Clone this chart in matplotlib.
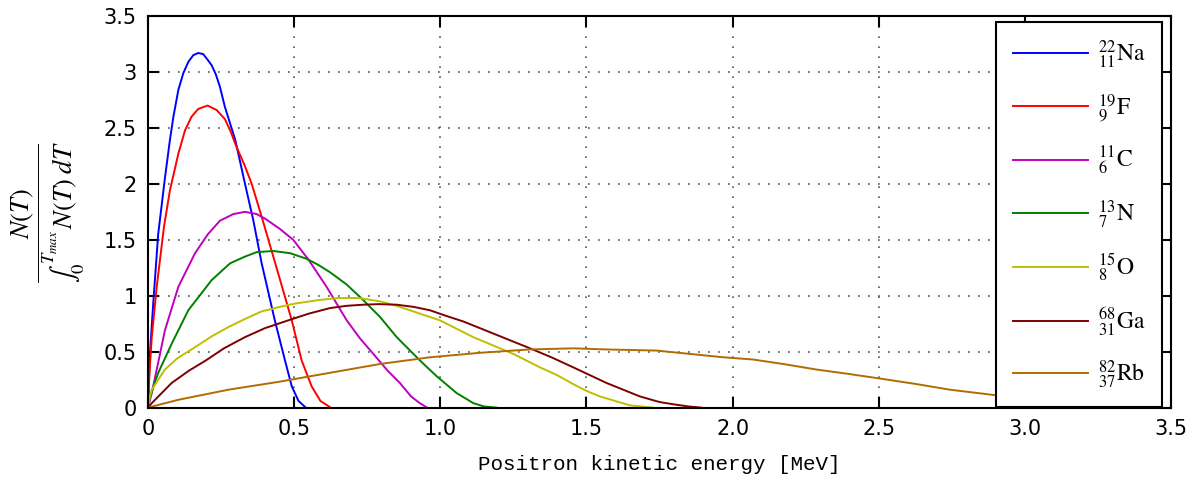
import numpy as np
import matplotlib
matplotlib.use("Agg")
import matplotlib.pyplot as plt

# positron spectra (x = energy in MeV, y = normalised N(T))
na22_x = [0, 0.007, 0.018, 0.035, 0.058, 0.075, 0.087, 0.104, 0.121, 0.138, 0.155,
          0.172, 0.189, 0.204, 0.218, 0.232, 0.246, 0.263, 0.299, 0.332, 0.360,
          0.389, 0.434, 0.469, 0.492, 0.515, 0.540]
na22_y = [0, 0.49, 0.93, 1.55, 2.05, 2.39, 2.60, 2.84, 2.99, 3.09, 3.15,
          3.17, 3.16, 3.11, 3.06, 2.98, 2.87, 2.69, 2.39, 2.0, 1.68,
          1.29, 0.78, 0.42, 0.19, 0.06, 0]

f19_x = [0, 0.005, 0.013, 0.030, 0.055, 0.075, 0.104, 0.127, 0.149, 0.172, 0.204,
         0.235, 0.263, 0.281, 0.303, 0.330, 0.355, 0.392, 0.440, 0.492, 0.526,
         0.560, 0.590, 0.625]
f19_y = [0, 0.3, 0.63, 1.08, 1.62, 1.94, 2.27, 2.48, 2.60, 2.67, 2.70,
         2.66, 2.58, 2.48, 2.33, 2.17, 2.0, 1.68, 1.25, 0.78, 0.42,
         0.19, 0.06, 0]

c11_x = [0, 0.013, 0.030, 0.058, 0.104, 0.161, 0.205, 0.246, 0.292, 0.332, 0.372,
         0.40, 0.45, 0.497, 0.55, 0.611, 0.680, 0.725, 0.771, 0.82, 0.862,
         0.90, 0.93, 0.955]
c11_y = [0, 0.13, 0.34, 0.69, 1.08, 1.38, 1.55, 1.67, 1.73, 1.75, 1.73,
         1.69, 1.60, 1.50, 1.32, 1.08, 0.78, 0.62, 0.48, 0.33, 0.22,
         0.10, 0.04, 0]

n13_x = [0, 0.007, 0.035, 0.081, 0.138, 0.218, 0.281, 0.332, 0.372, 0.429, 0.487,
         0.543, 0.58, 0.623, 0.68, 0.737, 0.794, 0.851, 0.931, 0.988, 1.056,
         1.113, 1.15, 1.193]
n13_y = [0, 0.10, 0.31, 0.57, 0.87, 1.14, 1.29, 1.35, 1.39, 1.40, 1.38,
         1.33, 1.28, 1.21, 1.10, 0.96, 0.81, 0.63, 0.42, 0.28, 0.13,
         0.04, 0.01, 0]

o15_x = [0, 0.005, 0.013, 0.058, 0.10, 0.161, 0.22, 0.275, 0.33, 0.389, 0.45,
         0.503, 0.58, 0.651, 0.72, 0.794, 0.85, 0.908, 0.999, 1.113, 1.25,
         1.341, 1.40, 1.455, 1.50, 1.546, 1.649, 1.729]
o15_y = [0, 0.08, 0.16, 0.34, 0.44, 0.54, 0.64, 0.72, 0.79, 0.86, 0.90,
         0.93, 0.96, 0.98, 0.98, 0.95, 0.91, 0.86, 0.78, 0.63, 0.48,
         0.36, 0.29, 0.21, 0.15, 0.10, 0.02, 0]

ga68_x = [0, 0.013, 0.081, 0.14, 0.197, 0.26, 0.332, 0.40, 0.48, 0.55, 0.623,
          0.68, 0.737, 0.79, 0.851, 0.91, 0.965, 1.02, 1.079, 1.193, 1.307,
          1.38, 1.455, 1.569, 1.683, 1.75, 1.797, 1.85, 1.894]
ga68_y = [0, 0.04, 0.22, 0.33, 0.42, 0.53, 0.63, 0.71, 0.78, 0.84, 0.89,
          0.91, 0.92, 0.925, 0.92, 0.90, 0.87, 0.82, 0.77, 0.65, 0.53,
          0.45, 0.36, 0.22, 0.10, 0.05, 0.03, 0.01, 0]

rb82_x = [0, 0.104, 0.275, 0.446, 0.620, 0.794, 0.965, 1.136, 1.307, 1.455, 1.569,
          1.740, 1.854, 1.968, 2.07, 2.173, 2.288, 2.40, 2.504, 2.63, 2.744,
          2.903, 3.1, 3.3, 3.38]
rb82_y = [0, 0.07, 0.16, 0.23, 0.31, 0.39, 0.45, 0.49, 0.52, 0.53, 0.52,
          0.51, 0.48, 0.45, 0.43, 0.39, 0.34, 0.30, 0.26, 0.21, 0.16,
          0.11, 0.06, 0.01, 0]

labels = [r'$^{22}_{11}\mathrm{Na}$', r'$^{19}_{9}\mathrm{F}$', r'$^{11}_{6}\mathrm{C}$',
          r'$^{13}_{7}\mathrm{N}$', r'$^{15}_{8}\mathrm{O}$', r'$^{68}_{31}\mathrm{Ga}$',
          r'$^{82}_{37}\mathrm{Rb}$']
colors = ['#0000ff', '#ff0000', '#bf00bf', '#007f00', '#bfbf00', '#7f0000', '#b36b00']

xticks = [0, 0.5, 1.0, 1.5, 2.0, 2.5, 3.0, 3.5]
xtick_labels = ['0', '0.5', '1.0', '1.5', '2.0', '2.5', '3.0', '3.5']
yticks = [0, 0.5, 1, 1.5, 2, 2.5, 3, 3.5]
ytick_labels = ['0', '0.5', '1', '1.5', '2', '2.5', '3', '3.5']

plt.rcParams['mathtext.fontset'] = 'stix'

fig = plt.figure(figsize=(11.98, 4.87), dpi=100)
ax = fig.add_axes([0.1235, 0.163, 0.854, 0.804])

series = [(na22_x, na22_y), (f19_x, f19_y), (c11_x, c11_y), (n13_x, n13_y),
          (o15_x, o15_y), (ga68_x, ga68_y), (rb82_x, rb82_y)]
for (xs, ys), lab, col in zip(series, labels, colors):
    ax.plot(xs, ys, color=col, lw=1.4, label=lab)

ax.set_xlim(0, 3.5)
ax.set_ylim(0, 3.5)
ax.set_xticks(xticks)
ax.set_xticklabels(xtick_labels)
ax.set_yticks(yticks)
ax.set_yticklabels(ytick_labels)
ax.tick_params(direction='in', length=8, width=1.5, top=True, right=True,
               labelsize=15, pad=8, colors='black')
ax.grid(True, color='#555555', linestyle=(0, (1, 5)), lw=1.2)
for sp in ax.spines.values():
    sp.set_linewidth(1.5)

ax.set_xlabel('Positron kinetic energy [MeV]', family='Liberation Mono', fontsize=15, labelpad=12)
ax.set_ylabel(r'$\dfrac{N(T)}{\int_0^{T_{max}}\,N(T)\;dT}$', fontsize=19)
ax.yaxis.set_label_coords(-0.060, 0.5)

leg = ax.legend(loc='upper left', bbox_to_anchor=(0.829, 0.0, 0.162, 0.985), mode='expand',
                fontsize=17, handlelength=3.2, handletextpad=0.4, labelspacing=0.9,
                borderpad=0.7, fancybox=False, framealpha=1, edgecolor='black',
                borderaxespad=0)
leg.get_frame().set_linewidth(1.5)

fig.savefig('out.png', dpi=100)
